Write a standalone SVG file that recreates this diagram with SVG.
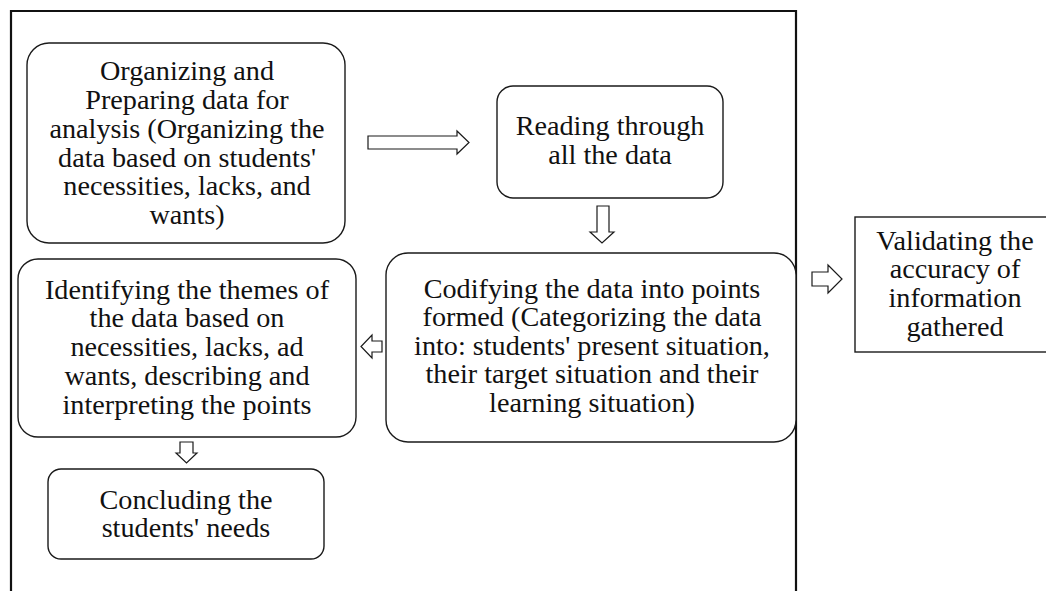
<svg xmlns="http://www.w3.org/2000/svg" width="1046" height="591" viewBox="0 0 1046 591">
<style>
.box{fill:#fff;stroke:#1a1a1a;stroke-width:1.4}
.arr{fill:#fff;stroke:#1a1a1a;stroke-width:1.2;stroke-linejoin:miter}
text{font-family:"Liberation Serif","Times New Roman",serif;font-size:28.2px;fill:#111;text-anchor:middle}
</style>
<rect width="1046" height="591" fill="#fff"/>
<path id="frame" d="M11,600 V11 H796 V600" fill="none" stroke="#111" stroke-width="2.2"/>
<g id="n1">
<rect class="box" x="27" y="43" width="318" height="200" rx="22"/>
<text x="187" y="80">Organizing and</text>
<text x="187" y="109">Preparing data for</text>
<text x="187" y="138">analysis (Organizing the</text>
<text x="187" y="167">data based on students'</text>
<text x="187" y="195">necessities, lacks, and</text>
<text x="187" y="224">wants)</text>
</g>
<g id="n2">
<rect class="box" x="497" y="86" width="226" height="112" rx="16"/>
<text x="610" y="135">Reading through</text>
<text x="610" y="164">all the data</text>
</g>
<g id="n3">
<rect class="box" x="386" y="253" width="410" height="189" rx="22"/>
<text x="592" y="298">Codifying the data into points</text>
<text x="592" y="326">formed (Categorizing the data</text>
<text x="592" y="355">into: students' present situation,</text>
<text x="592" y="383">their target situation and their</text>
<text x="592" y="412">learning situation)</text>
</g>
<g id="n4">
<rect class="box" x="18" y="259" width="338" height="178" rx="20"/>
<text x="187" y="299">Identifying the themes of</text>
<text x="187" y="327">the data based on</text>
<text x="187" y="356">necessities, lacks, ad</text>
<text x="187" y="385">wants, describing and</text>
<text x="187" y="414">interpreting the points</text>
</g>
<g id="n5">
<rect class="box" x="48" y="469" width="276" height="90" rx="13"/>
<text x="186" y="509">Concluding the</text>
<text x="186" y="537">students' needs</text>
</g>
<g id="n6">
<rect class="box" x="855" y="217" width="200" height="135" rx="0"/>
<text x="955" y="250">Validating the</text>
<text x="955" y="278">accuracy of</text>
<text x="955" y="307">information</text>
<text x="955" y="336">gathered</text>
</g>
<g id="connectors">
<polygon class="arr" points="368,136 457,136 457,131 469,142.5 457,154 457,149 368,149"/>
<polygon class="arr" points="597,206 609,206 609,232 614,232 602,243 590,232 597,232"/>
<polygon class="arr" points="382,341 372,341 372,335 361,346.5 372,358 372,352 382,352"/>
<polygon class="arr" points="180,442 193,442 193,453 197,453 186.5,463 176,453 180,453"/>
<polygon class="arr" points="812,272 828,272 828,265 842,279 828,293 828,286 812,286"/>
</g>
</svg>
